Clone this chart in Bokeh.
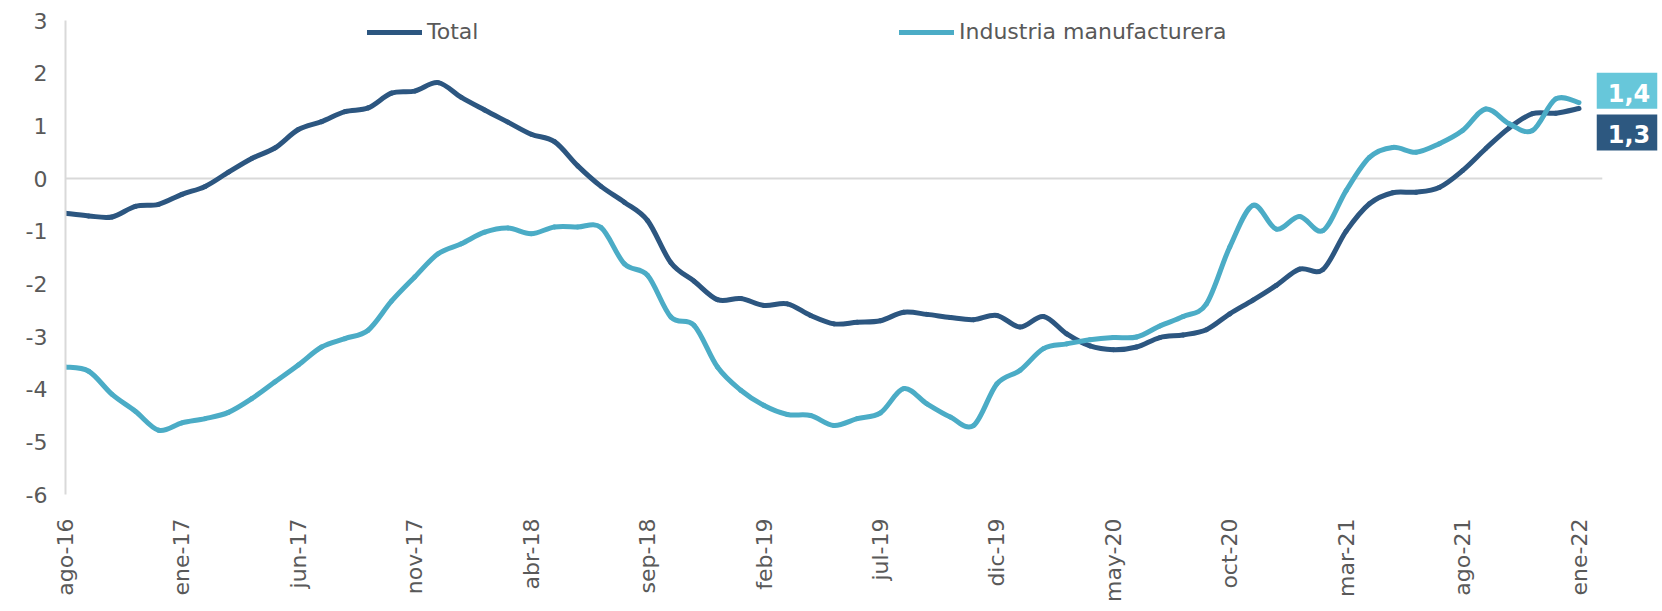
from math import pi
from bokeh.plotting import figure
from bokeh.models import (Range1d, FixedTicker, Legend, LegendItem, Label,
                          ColumnDataSource)
from bokeh.embed import file_html
from bokeh.resources import INLINE

# ---- data ----
tick_labels = ["ago-16", "ene-17", "jun-17", "nov-17", "abr-18", "sep-18", "feb-19",
               "jul-19", "dic-19", "may-20", "oct-20", "mar-21", "ago-21", "ene-22"]
tick_step = 5  # months between labels

total = [-0.66, -0.71, -0.73, -0.53, -0.49, -0.30, -0.15, 0.12, 0.38, 0.58,
         0.93, 1.08, 1.27, 1.34, 1.62, 1.66, 1.82, 1.54, 1.30, 1.07,
         0.84, 0.70, 0.24, -0.15, -0.45, -0.80, -1.60, -1.95, -2.30, -2.28,
         -2.41, -2.38, -2.60, -2.76, -2.73, -2.70, -2.54, -2.58, -2.64, -2.68,
         -2.60, -2.82, -2.62, -2.95, -3.18, -3.25, -3.20, -3.02, -2.97, -2.87,
         -2.57, -2.31, -2.03, -1.72, -1.73, -1.00, -0.48, -0.27, -0.26, -0.17,
         0.15, 0.57, 0.96, 1.23, 1.24, 1.33]

industria = [-3.58, -3.66, -4.10, -4.42, -4.78, -4.64, -4.56, -4.44, -4.18, -3.86,
             -3.54, -3.20, -3.04, -2.88, -2.33, -1.87, -1.43, -1.24, -1.02, -0.94,
             -1.05, -0.92, -0.92, -0.93, -1.62, -1.84, -2.63, -2.79, -3.58, -4.02,
             -4.31, -4.48, -4.50, -4.69, -4.56, -4.45, -3.99, -4.28, -4.53, -4.69,
             -3.90, -3.64, -3.23, -3.14, -3.06, -3.02, -3.01, -2.80, -2.62, -2.38,
             -1.30, -0.51, -0.96, -0.72, -0.99, -0.23, 0.40, 0.59, 0.50, 0.66,
             0.91, 1.32, 1.04, 0.91, 1.51, 1.44]

series_names = ["Total", "Industria manufacturera"]
line_colors = ["#2C5680", "#4BACC6"]
box_colors = ["#2D5880", "#67C7DA"]

FONT = "DejaVu Sans"
TXT = "#595959"
GRID = "#D9D9D9"

n = len(total)
x = list(range(n))

p = figure(width=1660, height=608, output_backend="svg", toolbar_location=None,
           x_range=Range1d(0, 68.5), y_range=Range1d(-6, 3),
           min_border_left=65, min_border_right=0, min_border_top=20,
           min_border_bottom=114)
p.outline_line_color = None
p.xgrid.visible = False
p.ygrid.visible = False

# axes
yt = list(range(-6, 4))
p.yaxis.ticker = FixedTicker(ticks=yt)
p.yaxis.major_label_overrides = {t: str(t) for t in yt}
p.yaxis.axis_line_color = GRID
p.yaxis.axis_line_width = 2
p.yaxis.major_tick_line_color = None
p.yaxis.minor_tick_line_color = None
p.yaxis.major_label_text_font = FONT
p.yaxis.major_label_text_font_size = "22px"
p.yaxis.major_label_text_color = TXT
p.yaxis.major_label_standoff = 12

xt = [i * tick_step for i in range(len(tick_labels))]
p.xaxis.ticker = FixedTicker(ticks=xt)
p.xaxis.major_label_overrides = {t: l for t, l in zip(xt, tick_labels)}
p.xaxis.axis_line_color = None
p.xaxis.major_tick_line_color = None
p.xaxis.minor_tick_line_color = None
p.xaxis.major_label_orientation = pi / 2
p.xaxis.major_label_text_font = FONT
p.xaxis.major_label_text_font_size = "22px"
p.xaxis.major_label_text_color = TXT
p.xaxis.major_label_standoff = 18

# zero line across the category span
p.segment(x0=[0], y0=[0], x1=[n], y1=[0], line_color=GRID, line_width=2)


def smooth_segments(vals):
    """Cubic Bezier segments through the data points (Catmull-Rom style control points)."""
    xs = list(range(len(vals)))
    ext_x = [xs[0]] + xs + [xs[-1]]
    ext_y = [vals[0]] + list(vals) + [vals[-1]]
    d = dict(x0=[], y0=[], x1=[], y1=[], cx0=[], cy0=[], cx1=[], cy1=[])
    for i in range(len(vals) - 1):
        j = i + 1
        d["x0"].append(ext_x[j]); d["y0"].append(ext_y[j])
        d["x1"].append(ext_x[j + 1]); d["y1"].append(ext_y[j + 1])
        d["cx0"].append(ext_x[j] + (ext_x[j + 1] - ext_x[j - 1]) / 6)
        d["cy0"].append(ext_y[j] + (ext_y[j + 1] - ext_y[j - 1]) / 6)
        d["cx1"].append(ext_x[j + 1] - (ext_x[j + 2] - ext_x[j]) / 6)
        d["cy1"].append(ext_y[j + 1] - (ext_y[j + 2] - ext_y[j]) / 6)
    return ColumnDataSource(d)


renderers = []
for vals, col in [(total, line_colors[0]), (industria, line_colors[1])]:
    renderers.append(p.bezier("x0", "y0", "x1", "y1", "cx0", "cy0", "cx1", "cy1",
                              source=smooth_segments(vals), line_color=col,
                              line_width=5, line_cap="round"))

for r, name, loc in [(renderers[0], series_names[0], (302, 450)),
                     (renderers[1], series_names[1], (834, 450))]:
    lg = Legend(items=[LegendItem(label=name, renderers=[r], index=0)], location=loc,
                orientation="horizontal", padding=0, margin=0, spacing=0,
                border_line_color=None, background_fill_alpha=0,
                glyph_width=55, glyph_height=24, label_height=24,
                label_standoff=5, label_text_font=FONT,
                label_text_font_size="22px", label_text_color=TXT)
    p.add_layout(lg)


def fmt(v):
    return f"{v:.1f}".replace(".", ",")


last = n - 1
for vals, col, yoff in [(industria, box_colors[1], 12), (total, box_colors[0], -24)]:
    p.add_layout(Label(x=last, y=vals[-1], text=fmt(vals[-1]), x_offset=48, y_offset=yoff,
                       text_align="center", text_baseline="middle",
                       text_font=FONT, text_font_size="24px", text_font_style="bold",
                       text_color="white", background_fill_color=col,
                       padding=(11, 7, 11, 7)))

open("out.html", "w").write(file_html(p, INLINE))
